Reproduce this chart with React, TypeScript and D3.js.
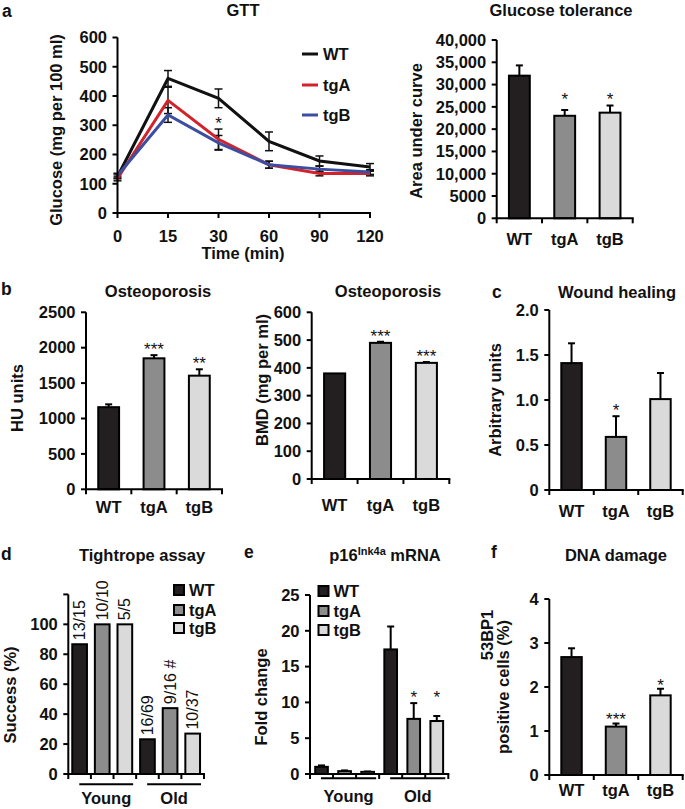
import React from "react";
import * as d3 from "d3";

const FONT = "'Liberation Sans', Arial, Helvetica, sans-serif";
const FS = 16.5;
const STAR_FS = 17;

const GENOTYPES = ["WT", "tgA", "tgB"];
const FILLS = ["#231f20", "#8c8c8c", "#dadada"];
const LINE_COLORS = ["#111111", "#d2232a", "#3b4ea2"];

// ---- a: GTT ----
const gttTimes = ["0", "15", "30", "60", "90", "120"];
const gttWT = [125, 460, 392, 245, 178, 157];
const gttWTErr = [8, 27, 32, 32, 17, 12];
const gttTgA = [118, 385, 252, 165, 135, 135];
const gttTgAErr = [8, 45, 35, 12, 8, 8];
const gttTgB = [128, 335, 240, 165, 150, 140];
const gttTgBErr = [8, 25, 25, 12, 10, 8];
const gttStars = ["", "", "*", "", "", ""];
const gttTicks = [0, 100, 200, 300, 400, 500, 600];

// ---- a: glucose tolerance (AUC) ----
const aucValues = [32000, 23000, 23700];
const aucErrors = [2300, 1300, 1600];
const aucStars = ["", "*", "*"];
const aucTicks = [0, 5000, 10000, 15000, 20000, 25000, 30000, 35000, 40000];
const aucTickLabels = ["0", "5000", "10,000", "15,000", "20,000", "25,000", "30,000", "35,000", "40,000"];

// ---- b: HU units ----
const huValues = [1160, 1850, 1605];
const huErrors = [40, 45, 90];
const huStars = ["", "***", "**"];
const huTicks = [0, 500, 1000, 1500, 2000, 2500];

// ---- b: BMD ----
const bmdValues = [380, 490, 418];
const bmdErrors = [0, 4, 3];
const bmdStars = ["", "***", "***"];
const bmdTicks = [0, 100, 200, 300, 400, 500, 600];

// ---- c: wound healing ----
const woundValues = [1.41, 0.59, 1.01];
const woundErrors = [0.22, 0.23, 0.29];
const woundStars = ["", "*", ""];
const woundTicks = [0, 0.5, 1.0, 1.5, 2.0];
const woundTickLabels = ["0", "0.5", "1.0", "1.5", "2.0"];

// ---- d: tightrope ----
const ageGroups = ["Young", "Old"];
const tightWT = [86.7, 23.2];
const tightTgA = [100, 44];
const tightTgB = [100, 27];
const tightLabelsWT = ["13/15", "16/69"];
const tightLabelsTgA = ["10/10", "9/16 #"];
const tightLabelsTgB = ["5/5", "10/37"];
const tightTicks = [0, 20, 40, 60, 80, 100, 120];
const tightTickLabels = ["0", "20", "40", "60", "80", "100", ""];

// ---- e: p16 mRNA ----
const p16WT = [1.0, 17.4];
const p16TgA = [0.4, 7.7];
const p16TgB = [0.3, 7.4];
const p16WTErr = [0.2, 3.2];
const p16TgAErr = [0.1, 2.2];
const p16TgBErr = [0.05, 0.7];
const p16StarsWT = ["", ""];
const p16StarsTgA = ["", "*"];
const p16StarsTgB = ["", "*"];
const p16Ticks = [0, 5, 10, 15, 20, 25];

// ---- f: DNA damage ----
const dnaValues = [2.68, 1.1, 1.81];
const dnaErrors = [0.2, 0.07, 0.15];
const dnaStars = ["", "***", "*"];
const dnaTicks = [0, 1, 2, 3, 4];

type YAxisProps = { x: number; y: d3.ScaleLinear<number, number>; ticks: number[]; labels?: string[] };
function YAxis({ x, y, ticks, labels }: YAxisProps) {
  const dom = y.domain();
  return (
    <g>
      <line x1={x} x2={x} y1={y(dom[0]) + 1} y2={y(dom[1])} stroke="#000" strokeWidth={2} />
      {ticks.map((t, i) => (
        <g key={i}>
          <line x1={x - 5} x2={x} y1={y(t)} y2={y(t)} stroke="#000" strokeWidth={2} />
          <text x={x - 10.5} y={y(t)} dy="0.35em" textAnchor="end" fontSize={FS} fontWeight="bold">
            {labels ? labels[i] : String(t)}
          </text>
        </g>
      ))}
    </g>
  );
}

function XAxisLine({ y0, xs }: { y0: number; xs: number[] }) {
  const x0 = Math.min(...xs);
  const x1 = Math.max(...xs);
  return (
    <g>
      <line x1={x0 - 1} x2={x1 + 1} y1={y0} y2={y0} stroke="#000" strokeWidth={2} />
      {xs.map((xx, i) => (
        <line key={i} x1={xx} x2={xx} y1={y0} y2={y0 + 5} stroke="#000" strokeWidth={2} />
      ))}
    </g>
  );
}

function Bar({ cx, w, y, v, e, fill }: { cx: number; w: number; y: d3.ScaleLinear<number, number>; v: number; e: number; fill: string }) {
  const top = y(v);
  const base = y(0);
  return (
    <g>
      {e > 0 && (
        <g stroke="#000" strokeWidth={2}>
          <line x1={cx} x2={cx} y1={top} y2={y(v + e)} />
          <line x1={cx - 3.5} x2={cx + 3.5} y1={y(v + e)} y2={y(v + e)} />
        </g>
      )}
      <rect x={cx - w / 2} y={top} width={w} height={base - top} fill={fill} stroke="#000" strokeWidth={2} />
    </g>
  );
}

function Star({ cx, cy, s }: { cx: number; cy: number; s: string }) {
  if (!s) return null;
  return (
    <text x={cx} y={cy + STAR_FS * 0.58} textAnchor="middle" fontSize={STAR_FS} fill="#111">
      {s}
    </text>
  );
}

type BarChartProps = {
  values: number[];
  errors: number[];
  stars: string[];
  x0: number;
  x1: number;
  yDomain: [number, number];
  yRange: [number, number];
  ticks: number[];
  tickLabels?: string[];
  labelY: number;
  starGap?: number;
  alignStars?: boolean;
};
function BarChart(p: BarChartProps) {
  const x = d3.scaleBand<string>().domain(GENOTYPES).range([p.x0, p.x1]).padding(0);
  const y = d3.scaleLinear().domain(p.yDomain).range(p.yRange);
  const bw = x.bandwidth();
  const w = bw * 0.46;
  const gap = p.starGap ?? 10;
  const errTops = p.values.map((v, i) => y(v + p.errors[i]));
  const starred = errTops.filter((_, i) => p.stars[i]);
  const alignedTop = starred.length ? Math.min(...starred) : 0;
  const bounds = d3.range(GENOTYPES.length + 1).map((i) => p.x0 + i * bw);
  return (
    <g>
      {GENOTYPES.map((g, i) => (
        <Bar key={g} cx={(x(g) as number) + bw / 2} w={w} y={y} v={p.values[i]} e={p.errors[i]} fill={FILLS[i]} />
      ))}
      {GENOTYPES.map((g, i) => (
        <Star key={g} cx={(x(g) as number) + bw / 2} cy={(p.alignStars ? alignedTop : errTops[i]) - gap} s={p.stars[i]} />
      ))}
      <YAxis x={p.x0} y={y} ticks={p.ticks} labels={p.tickLabels} />
      <XAxisLine y0={y(0)} xs={bounds} />
      {GENOTYPES.map((g) => (
        <text key={g} x={(x(g) as number) + bw / 2} y={p.labelY} textAnchor="middle" fontSize={FS} fontWeight="bold">
          {g}
        </text>
      ))}
    </g>
  );
}

type GroupedProps = {
  series: number[][];
  errors?: number[][];
  stars?: string[][];
  barLabels?: string[][];
  x0: number;
  x1: number;
  yDomain: [number, number];
  yRange: [number, number];
  ticks: number[];
  tickLabels?: string[];
  barFrac: number;
  groupLineY: number;
  groupLabelY: number;
  starAligned?: boolean;
};
function GroupedChart(p: GroupedProps) {
  const gx = d3.scaleBand<string>().domain(ageGroups).range([p.x0, p.x1]).padding(0);
  const ix = d3.scaleBand<string>().domain(GENOTYPES).range([0, gx.bandwidth()]).padding(0);
  const y = d3.scaleLinear().domain(p.yDomain).range(p.yRange);
  const bw = ix.bandwidth();
  const w = bw * p.barFrac;
  const bounds = d3.range(ageGroups.length * GENOTYPES.length + 1).map((i) => p.x0 + i * bw);
  const cxOf = (gi: number, si: number) => (gx(ageGroups[gi]) as number) + (ix(GENOTYPES[si]) as number) + bw / 2;
  return (
    <g>
      {ageGroups.map((grp, gi) =>
        GENOTYPES.map((g, si) => (
          <Bar key={grp + g} cx={cxOf(gi, si)} w={w} y={y} v={p.series[si][gi]} e={p.errors ? p.errors[si][gi] : 0} fill={FILLS[si]} />
        ))
      )}
      {p.stars &&
        ageGroups.map((grp, gi) => {
          const tops = GENOTYPES.map((_, si) => y(p.series[si][gi] + (p.errors ? p.errors[si][gi] : 0)));
          const starredTops = tops.filter((_, si) => p.stars![si][gi]);
          const top = starredTops.length ? Math.min(...starredTops) : 0;
          return GENOTYPES.map((g, si) => (
            <Star key={grp + g} cx={cxOf(gi, si)} cy={(p.starAligned ? top : tops[si]) - 10} s={p.stars![si][gi]} />
          ));
        })}
      {p.barLabels &&
        ageGroups.map((grp, gi) =>
          GENOTYPES.map((g, si) => {
            const cx = cxOf(gi, si);
            const ty = y(p.series[si][gi]) - 4;
            return (
              <text key={grp + g} transform={`translate(${cx},${ty}) rotate(-90)`} dy="0.35em" fontSize={16} textAnchor="start">
                {p.barLabels![si][gi]}
              </text>
            );
          })
        )}
      <YAxis x={p.x0} y={y} ticks={p.ticks} labels={p.tickLabels} />
      <XAxisLine y0={y(0)} xs={bounds} />
      {ageGroups.map((grp) => {
        const a = (gx(grp) as number) + 11;
        const b = (gx(grp) as number) + gx.bandwidth() - 3;
        return (
          <g key={grp}>
            <line x1={a} x2={b} y1={p.groupLineY} y2={p.groupLineY} stroke="#000" strokeWidth={2} />
            <text x={(a + b) / 2} y={p.groupLabelY} textAnchor="middle" fontSize={FS} fontWeight="bold">
              {grp}
            </text>
          </g>
        );
      })}
    </g>
  );
}

function YLabel({ x, y, text }: { x: number; y: number; text: string }) {
  return (
    <text transform={`translate(${x},${y}) rotate(-90)`} dy="0.35em" textAnchor="middle" fontSize={FS} fontWeight="bold">
      {text}
    </text>
  );
}

function Title({ x, y, text }: { x: number; y: number; text: string }) {
  return (
    <text x={x} y={y} textAnchor="middle" fontSize={FS} fontWeight="bold">
      {text}
    </text>
  );
}

function Letter({ x, y, t }: { x: number; y: number; t: string }) {
  return (
    <text x={x} y={y} fontSize={17.5} fontWeight="bold">
      {t}
    </text>
  );
}

function SquareLegend({ x, ys }: { x: number; ys: number[] }) {
  return (
    <g>
      {GENOTYPES.map((g, i) => (
        <g key={g}>
          <rect x={x} y={ys[i] - 5} width={10} height={10} fill={FILLS[i]} stroke="#000" strokeWidth={2} />
          <text x={x + 15} y={ys[i]} dy="0.35em" fontSize={FS} fontWeight="bold">
            {g}
          </text>
        </g>
      ))}
    </g>
  );
}

function GTT() {
  const xg = d3.scalePoint<string>().domain(gttTimes).range([117.5, 370]);
  const yg = d3.scaleLinear().domain([0, 600]).range([213, 37.5]);
  const series = [
    { v: gttWT, e: gttWTErr, c: LINE_COLORS[0] },
    { v: gttTgA, e: gttTgAErr, c: LINE_COLORS[1] },
    { v: gttTgB, e: gttTgBErr, c: LINE_COLORS[2] },
  ];
  const line = (vals: number[]) =>
    d3
      .line<number>()
      .x((_, i) => xg(gttTimes[i]) as number)
      .y((d) => yg(d))(vals) as string;
  const legendY = [54, 85, 115];
  return (
    <g>
      {series.map((s, si) =>
        s.v.map((v, i) => {
          const cx = xg(gttTimes[i]) as number;
          const t = yg(v + s.e[i]);
          const b = yg(v - s.e[i]);
          return (
            <g key={si + "-" + i} stroke="#111" strokeWidth={1.5}>
              <line x1={cx} x2={cx} y1={t} y2={b} />
              <line x1={cx - 4} x2={cx + 4} y1={t} y2={t} />
              <line x1={cx - 4} x2={cx + 4} y1={b} y2={b} />
            </g>
          );
        })
      )}
      {series.map((s, si) => (
        <path key={si} d={line(s.v)} fill="none" stroke={s.c} strokeWidth={3} strokeLinejoin="miter" />
      ))}
      {gttStars.map((s, i) => (
        <Star key={i} cx={xg(gttTimes[i]) as number} cy={yg(gttTgA[i] + gttTgAErr[i]) - 10} s={s} />
      ))}
      <YAxis x={117.5} y={yg} ticks={gttTicks} />
      <XAxisLine y0={213} xs={gttTimes.map((t) => xg(t) as number)} />
      {gttTimes.map((t) => (
        <text key={t} x={xg(t) as number} y={241.5} textAnchor="middle" fontSize={FS} fontWeight="bold">
          {t}
        </text>
      ))}
      <text x={243} y={259} textAnchor="middle" fontSize={FS} fontWeight="bold">
        Time (min)
      </text>
      <YLabel x={56} y={130} text="Glucose (mg per 100 ml)" />
      <Title x={243} y={16} text="GTT" />
      {GENOTYPES.map((g, i) => (
        <g key={g}>
          <line x1={302} x2={318} y1={legendY[i]} y2={legendY[i]} stroke={LINE_COLORS[i]} strokeWidth={3} />
          <text x={323} y={legendY[i]} dy="0.35em" fontSize={FS} fontWeight="bold">
            {g}
          </text>
        </g>
      ))}
    </g>
  );
}

export default function App() {
  return (
    <svg
      width={685}
      height={809}
      style={{ position: "absolute", left: 0, top: 0, display: "block" }}
      fontFamily={FONT}
      fill="#111"
    >
      <rect x={0} y={0} width={685} height={809} fill="#fff" />
      {/* a */}
      <Letter x={2} y={17} t="a" />
      <GTT />
      <Title x={561} y={16} text="Glucose tolerance" />
      <YLabel x={416} y={131} text="Area under curve" />
      <BarChart
        values={aucValues}
        errors={aucErrors}
        stars={aucStars}
        x0={496.7}
        x1={632.7}
        yDomain={[0, 40000]}
        yRange={[218.3, 40]}
        ticks={aucTicks}
        tickLabels={aucTickLabels}
        labelY={245}
        alignStars
      />

      {/* b */}
      <Letter x={1} y={295} t="b" />
      <Title x={158} y={297} text="Osteoporosis" />
      <YLabel x={17} y={398} text="HU units" />
      <BarChart
        values={huValues}
        errors={huErrors}
        stars={huStars}
        x0={86}
        x1={222}
        yDomain={[0, 2500]}
        yRange={[489.3, 312.3]}
        ticks={huTicks}
        labelY={513}
        starGap={10}
      />
      <Title x={388} y={297} text="Osteoporosis" />
      <YLabel x={262} y={380} text="BMD (mg per ml)" />
      <BarChart
        values={bmdValues}
        errors={bmdErrors}
        stars={bmdStars}
        x0={311.7}
        x1={449.3}
        yDomain={[0, 600]}
        yRange={[479, 312.3]}
        ticks={bmdTicks}
        labelY={511}
        starGap={10}
      />

      {/* c */}
      <Letter x={492} y={298} t="c" />
      <Title x={617} y={298} text="Wound healing" />
      <YLabel x={495} y={400} text="Arbitrary units" />
      <BarChart
        values={woundValues}
        errors={woundErrors}
        stars={woundStars}
        x0={549.3}
        x1={682.7}
        yDomain={[0, 2]}
        yRange={[490, 310]}
        ticks={woundTicks}
        tickLabels={woundTickLabels}
        labelY={517}
        starGap={10}
      />

      {/* d */}
      <Letter x={1} y={560} t="d" />
      <Title x={142} y={561} text="Tightrope assay" />
      <YLabel x={10} y={695} text="Success (%)" />
      <GroupedChart
        series={[tightWT, tightTgA, tightTgB]}
        barLabels={[tightLabelsWT, tightLabelsTgA, tightLabelsTgB]}
        x0={68.3}
        x1={204}
        yDomain={[0, 120]}
        yRange={[774, 594.4]}
        ticks={tightTicks}
        tickLabels={tightTickLabels}
        barFrac={0.65}
        groupLineY={784.3}
        groupLabelY={804}
      />
      <SquareLegend x={174} ys={[590, 610, 628]} />

      {/* e */}
      <Letter x={244} y={558} t="e" />
      <text x={385} y={561} textAnchor="middle" fontSize={FS} fontWeight="bold">
        p16
        <tspan dy={-6} fontSize={11}>
          Ink4a
        </tspan>
        <tspan dy={6}> mRNA</tspan>
      </text>
      <YLabel x={261} y={697} text="Fold change" />
      <GroupedChart
        series={[p16WT, p16TgA, p16TgB]}
        errors={[p16WTErr, p16TgAErr, p16TgBErr]}
        stars={[p16StarsWT, p16StarsTgA, p16StarsTgB]}
        x0={310}
        x1={448.3}
        yDomain={[0, 25]}
        yRange={[774, 595]}
        ticks={p16Ticks}
        barFrac={0.55}
        groupLineY={778.3}
        groupLabelY={802}
        starAligned
      />
      <SquareLegend x={318.5} ys={[591, 611, 630]} />

      {/* f */}
      <Letter x={491} y={558} t="f" />
      <Title x={616} y={561} text="DNA damage" />
      <YLabel x={487} y={635} text="53BP1" />
      <YLabel x={503} y={687} text="positive cells (%)" />
      <BarChart
        values={dnaValues}
        errors={dnaErrors}
        stars={dnaStars}
        x0={549.3}
        x1={682.7}
        yDomain={[0, 4]}
        yRange={[775, 599]}
        ticks={dnaTicks}
        labelY={796}
        starGap={8}
      />
    </svg>
  );
}
